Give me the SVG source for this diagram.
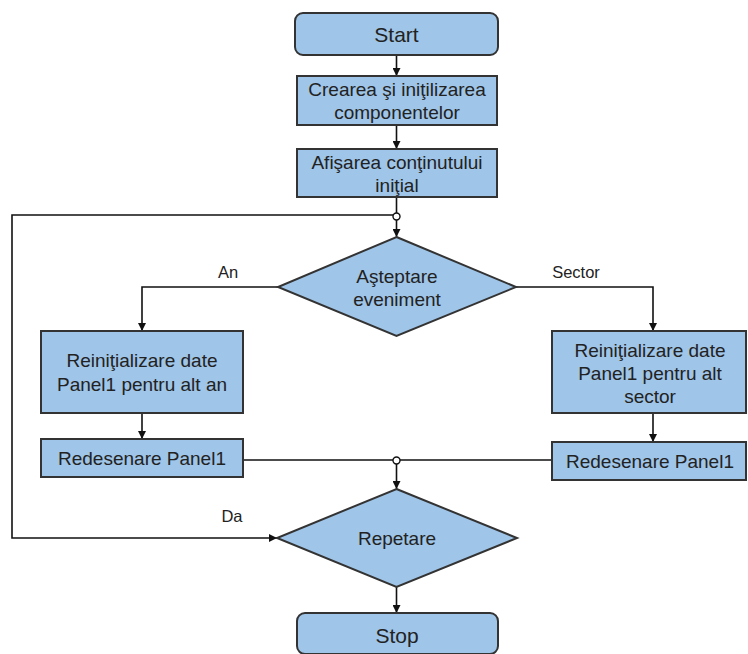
<svg xmlns="http://www.w3.org/2000/svg" width="748" height="654" viewBox="0 0 748 654">
<defs>
<style>
.n{fill:#9fc5e8;stroke:#333;stroke-width:2}
.t{font-family:"Liberation Sans",Arial,sans-serif;font-size:19px;fill:#222;text-anchor:middle}
.big{font-size:21px}
.lbl{font-family:"Liberation Sans",Arial,sans-serif;font-size:16.5px;fill:#222;text-anchor:middle}
.c{fill:none;stroke:#111;stroke-width:1.6}
.j{fill:#fff;stroke:#111;stroke-width:1.4}
</style>
<marker id="a" viewBox="0 0 10 10" refX="10" refY="5" markerWidth="8" markerHeight="8" markerUnits="userSpaceOnUse" orient="auto">
<path d="M0,0 L10,5 L0,10 z" fill="#111"/>
</marker>
</defs>
<rect width="748" height="654" fill="#fff"/>
<g id="connectors">
<path class="c" d="M396.5,55 V76" marker-end="url(#a)"/>
<path class="c" d="M396.5,125 V149" marker-end="url(#a)"/>
<path class="c" d="M396.5,197 V213"/>
<path class="c" d="M393,215 H12 V538 H277" marker-end="url(#a)"/>
<path class="c" d="M396.5,220 V237" marker-end="url(#a)"/>
<path class="c" d="M278,287 H142 V331" marker-end="url(#a)"/>
<path class="c" d="M516,287 H653 V331" marker-end="url(#a)"/>
<path class="c" d="M142,413 V439" marker-end="url(#a)"/>
<path class="c" d="M653,413 V442" marker-end="url(#a)"/>
<path class="c" d="M243,460 H393"/>
<path class="c" d="M400,460 H552"/>
<path class="c" d="M396.5,464 V489" marker-end="url(#a)"/>
<path class="c" d="M396.5,587 V613" marker-end="url(#a)"/>
<circle class="j" cx="396.5" cy="216.5" r="3.5"/>
<circle class="j" cx="396.5" cy="460.5" r="3.5"/>
<text class="lbl" x="228" y="278">An</text>
<text class="lbl" x="576" y="278">Sector</text>
<text class="lbl" x="232" y="522">Da</text>
</g>
<g id="start">
<rect class="n" x="295" y="13" width="203" height="42" rx="8"/>
<text class="t big" x="396.5" y="41.5">Start</text>
</g>
<g id="crearea">
<rect class="n" x="297" y="76" width="200" height="49"/>
<text class="t" x="397" y="96">Crearea şi iniţilizarea</text>
<text class="t" x="397" y="118.5">componentelor</text>
</g>
<g id="afisarea">
<rect class="n" x="297" y="149" width="200" height="48"/>
<text class="t" x="397" y="168.5">Afişarea conţinutului</text>
<text class="t" x="397" y="191.5">iniţial</text>
</g>
<g id="asteptare">
<polygon class="n" points="396.5,237 516,287 396.5,336 278,287"/>
<text class="t" x="397" y="283">Aşteptare</text>
<text class="t" x="397" y="306">eveniment</text>
</g>
<g id="reinit-an">
<rect class="n" x="41" y="331" width="202" height="82"/>
<text class="t" x="142" y="367">Reiniţializare date</text>
<text class="t" x="142" y="390.5">Panel1 pentru alt an</text>
</g>
<g id="reinit-sector">
<rect class="n" x="552" y="331" width="194" height="82"/>
<text class="t" x="650" y="357">Reiniţializare date</text>
<text class="t" x="650" y="380">Panel1 pentru alt</text>
<text class="t" x="650" y="403">sector</text>
</g>
<g id="redesenare-an">
<rect class="n" x="41" y="439" width="202" height="38"/>
<text class="t" x="142" y="465">Redesenare Panel1</text>
</g>
<g id="redesenare-sector">
<rect class="n" x="552" y="442" width="194" height="38"/>
<text class="t" x="650" y="467.5">Redesenare Panel1</text>
</g>
<g id="repetare">
<polygon class="n" points="396.5,489 517,538 396.5,587 277,538"/>
<text class="t" x="397" y="545">Repetare</text>
</g>
<g id="stop">
<rect class="n" x="297" y="613" width="201" height="41" rx="8"/>
<text class="t big" x="397" y="642.5">Stop</text>
</g>
</svg>
